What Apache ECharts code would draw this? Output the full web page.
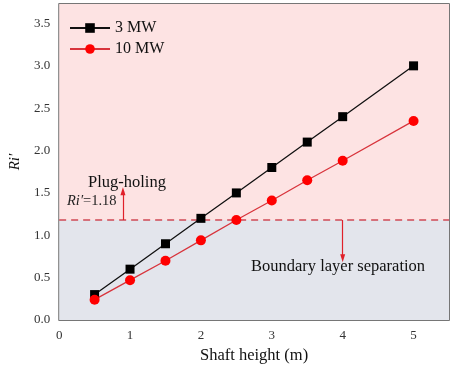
<!DOCTYPE html>
<html>
<head>
<meta charset="utf-8">
<script src="https://cdn.jsdelivr.net/npm/echarts@6/dist/echarts.min.js"></script>
<style>
  html, body { margin: 0; padding: 0; background: #fff; }
  #chart { width: 450px; height: 374px; }
</style>
</head>
<body>
<div id="chart"></div>
<script>
// Shaft height (m) and the modified Richardson number for two fire sizes
const shaftHeight = [0.5, 1, 1.5, 2, 2.5, 3, 3.5, 4, 5];
const ri3MW = [0.30, 0.60, 0.90, 1.20, 1.50, 1.80, 2.10, 2.40, 3.00];
const ri10MW = [0.24, 0.47, 0.70, 0.94, 1.18, 1.41, 1.65, 1.88, 2.35];
const criticalRi = 1.18;
const seriesNames = ['3 MW', '10 MW'];

const serif = '"Liberation Serif", "DejaVu Serif", serif';
const xMax = 5.5;
const yMax = 3.73;

const chart = echarts.init(document.getElementById('chart'), null, { renderer: 'canvas' });

const pairs = (ys) => shaftHeight.map((x, i) => [x, ys[i]]);

chart.setOption({
  animation: false,
  textStyle: { fontFamily: serif },
  grid: {
    left: 56, right: 1, top: 4, bottom: 54,
    show: true, borderColor: '#4a4a4a', borderWidth: 1.5,
    backgroundColor: 'transparent'
  },
  legend: {
    left: 64, top: 15, orient: 'vertical', itemGap: 5,
    itemWidth: 40, itemHeight: 12,
    textStyle: { fontFamily: serif, fontSize: 16, color: '#111' },
    data: seriesNames
  },
  xAxis: {
    type: 'value', min: 0, max: xMax, interval: 1,
    name: 'Shaft height (m)', nameLocation: 'middle', nameGap: 24,
    nameTextStyle: { fontFamily: serif, fontSize: 16.5, color: '#111' },
    axisLine: { show: false }, axisTick: { show: false }, splitLine: { show: false },
    axisLabel: { showMaxLabel: false, fontFamily: serif, fontSize: 13, color: '#333', margin: 9 }
  },
  yAxis: {
    type: 'value', min: 0, max: yMax, interval: 0.5,
    name: "Ri′", nameLocation: 'middle', nameGap: 27, nameRotate: 90,
    nameTextStyle: { fontFamily: serif, fontSize: 15, fontStyle: 'italic', color: '#111' },
    axisLine: { show: false }, axisTick: { show: false }, splitLine: { show: false },
    axisLabel: {
      showMaxLabel: false, fontFamily: serif, fontSize: 13, color: '#333', margin: 9,
      formatter: (v) => v.toFixed(1)
    }
  },
  series: [
    {
      name: seriesNames[0], type: 'line', data: pairs(ri3MW), z: 4,
      symbol: 'rect', symbolSize: 9,
      lineStyle: { color: '#111', width: 1.3 },
      itemStyle: { color: '#000' },
      markArea: {
        silent: true,
        data: [
          [{ yAxis: 0, itemStyle: { color: '#e3e5ec' } }, { yAxis: criticalRi }],
          [{ yAxis: criticalRi, itemStyle: { color: '#fde3e3' } }, { yAxis: yMax }]
        ]
      }
    },
    {
      name: seriesNames[1], type: 'line', data: pairs(ri10MW), z: 4,
      symbol: 'circle', symbolSize: 10,
      lineStyle: { color: '#d8343c', width: 1.3 },
      itemStyle: { color: '#ff0000' },
      markLine: {
        silent: true, symbol: 'none', z: 2,
        label: { show: false },
        data: [
          [{ coord: [0, criticalRi], lineStyle: { color: '#d04a55', type: [7, 5], width: 1.5 } },
           { coord: [xMax, criticalRi] }],
          [{ coord: [0.9, criticalRi], symbol: 'none', lineStyle: { color: '#e0202a', type: 'solid', width: 1.2 } },
           { coord: [0.9, 1.52], symbol: 'triangle', symbolSize: [5, 8] }],
          [{ coord: [4, criticalRi], symbol: 'none', lineStyle: { color: '#e0202a', type: 'solid', width: 1.2 } },
           { coord: [4, 0.73], symbol: 'triangle', symbolSize: [5, 8], symbolRotate: 180 }]
        ]
      }
    }
  ],
  graphic: [
    {
      type: 'text', left: 88, top: 174, z: 10,
      style: { text: 'Plug-holing', font: '16.5px ' + serif, fill: '#111' }
    },
    {
      type: 'text', left: 67, top: 194, z: 10,
      style: {
        text: '{i|Ri′}=1.18',
        font: '14.5px ' + serif, fill: '#222',
        rich: { i: { fontStyle: 'italic', fontFamily: serif, fontSize: 14.5, fill: '#222' } }
      }
    },
    {
      type: 'text', left: 251, top: 258, z: 10,
      style: { text: 'Boundary layer separation', font: '16.5px ' + serif, fill: '#111' }
    }
  ]
});
</script>
</body>
</html>
